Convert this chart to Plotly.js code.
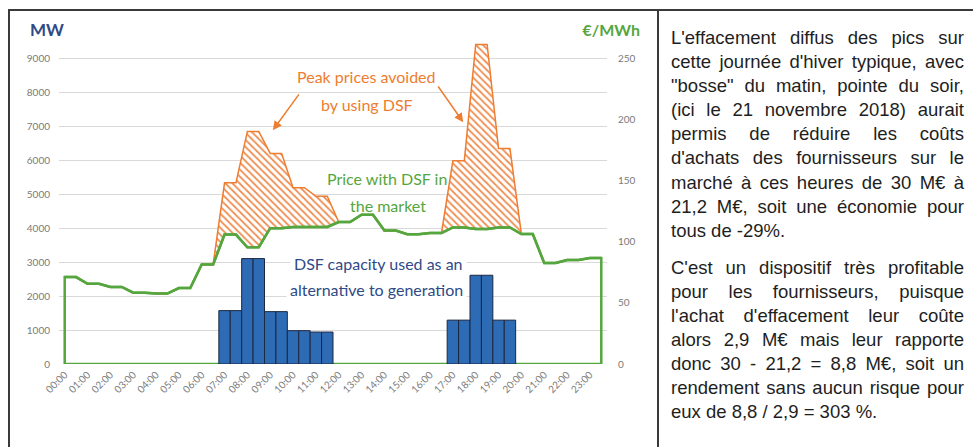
<!DOCTYPE html>
<html>
<head>
<meta charset="utf-8">
<script src="https://cdn.plot.ly/plotly-3.0.1.min.js"></script>
<style>
html,body{margin:0;padding:0;width:973px;height:447px;overflow:hidden;background:#fff;}
#chart{position:absolute;left:0;top:0;width:657px;height:447px;}
.frame{position:absolute;background:#3a3a3a;}
#txt{position:absolute;left:671px;top:26px;width:293px;font-family:"Liberation Sans",Arial,sans-serif;font-size:18.5px;line-height:24.1px;color:#1e1e1e;}
#txt .j{text-align:justify;text-align-last:justify;}
#txt .e{text-align:left;}
#txt .p2{margin-top:13px;}
</style>
</head>
<body>
<div id="chart"></div>
<div class="frame" style="left:8px;top:9px;width:965px;height:2px;"></div>
<div class="frame" style="left:8px;top:9px;width:2px;height:438px;"></div>
<div class="frame" style="left:657px;top:9px;width:2px;height:438px;"></div>
<div id="txt">
  <div class="j">L'effacement diffus des pics sur</div>
  <div class="j">cette journée d'hiver typique, avec</div>
  <div class="j">"bosse" du matin, pointe du soir,</div>
  <div class="j">(ici le 21 novembre 2018) aurait</div>
  <div class="j">permis de réduire les coûts</div>
  <div class="j">d'achats des fournisseurs sur le</div>
  <div class="j">marché à ces heures de 30 M€ à</div>
  <div class="j">21,2 M€, soit une économie pour</div>
  <div class="e">tous de -29%.</div>
  <div class="j p2">C'est un dispositif très profitable</div>
  <div class="j">pour les fournisseurs, puisque</div>
  <div class="j">l'achat d'effacement leur coûte</div>
  <div class="j">alors 2,9 M€ mais leur rapporte</div>
  <div class="j">donc 30 - 21,2 = 8,8 M€, soit un</div>
  <div class="j">rendement sans aucun risque pour</div>
  <div class="e">eux de 8,8 / 2,9 = 303 %.</div>
</div>
<script>
// ---------- DATA ----------
const hours = ["00:00","01:00","02:00","03:00","04:00","05:00","06:00","07:00","08:00","09:00","10:00","11:00",
               "12:00","13:00","14:00","15:00","16:00","17:00","18:00","19:00","20:00","21:00","22:00","23:00"];
// half-hour slots (category labels)
const slots = [];
hours.forEach(h => { slots.push(h); slots.push(h.slice(0,3) + "30"); });

// Price with DSF in the market (€/MWh), per half hour
const priceWithDSF = [71,71, 65.6,65.6, 63,63, 58.3,58.3, 57.5,57.5, 62,62, 81.3,81.3, 105.7,105.7,
                      95.4,95.4, 111,111, 112,112, 112,112, 116,116, 122,122, 109,109, 106,106,
                      107,107, 111.6,111.6, 110.3,110.3, 111.6,111.6, 106.2,106.2, 82.5,82.5, 85,85, 86.5,86.5];
// Price without DSF (€/MWh), per half hour
const priceWithoutDSF = [71,71, 65.6,65.6, 63,63, 58.3,58.3, 57.5,57.5, 62,62, 81.3,81.3, 148,148,
                         190,190, 172,172, 144,144, 137,137, 116,116, 122,122, 109,109, 106,106,
                         107,107, 166,166, 261,261, 176,176, 106.2,106.2, 82.5,82.5, 85,85, 86.5,86.5];
// DSF capacity used (MW), per half hour
const dsfCapacityMW = [0,0, 0,0, 0,0, 0,0, 0,0, 0,0, 0,0, 1570,1570,
                       3100,3100, 1540,1540, 980,980, 940,940, 0,0, 0,0, 0,0, 0,0,
                       0,0, 1290,1290, 2610,2610, 1290,1290, 0,0, 0,0, 0,0, 0,0];

const mwTicks = [0,1000,2000,3000,4000,5000,6000,7000,8000,9000,10000];
const priceTicks = [0,50,100,150,200,250];

// ---------- STYLE ----------
const GREEN = '#55A63E', ORANGE = '#ED7D31', BLUE = '#2E6BB5', NAVY = '#2F4A86';
const tickFont = {family:'Lato, "Open Sans", sans-serif', size:10, color:'#7a7a7a'};
const annFont = (c, s, fam) => ({family: fam || 'Lato, "Open Sans", sans-serif', size: s || 16, color: c});

// plot-area geometry (pixels) used for annotation placement
const PL = 59.4, PW = 547.2, PB = 364.3, PH = 340.7;
const px = v => (v - PL) / PW;
const py = v => (PB - v) / PH;

const traces = [
  { // price with DSF (base for the hatch)
    x: slots, y: priceWithDSF, yaxis:'y', mode:'lines',
    line:{color:GREEN, width:2.5}, hoverinfo:'skip'
  },
  { // price without DSF -> hatched difference
    x: slots, y: priceWithoutDSF, yaxis:'y', mode:'lines', fill:'tonexty',
    fillcolor:'rgba(255,255,255,1)',
    fillpattern:{shape:'\\', fgcolor:'#EF8E52', bgcolor:'#ffffff', size:5, solidity:0.35},
    line:{color:ORANGE, width:1.5}, hoverinfo:'skip'
  },
  { // green area outline (closed to zero)
    x: [slots[0]].concat(slots, [slots[slots.length-1], slots[0]]),
    y: [0].concat(priceWithDSF, [0, 0]),
    yaxis:'y', mode:'lines', line:{color:GREEN, width:2.5}, hoverinfo:'skip'
  },
  { // DSF capacity bars
    type:'bar', x: slots, y: dsfCapacityMW.map(v => v || null), yaxis:'y2', width:1,
    marker:{color:BLUE, line:{color:'#1c2740', width:1}}, hoverinfo:'skip'
  }
];

const layout = {
  width:657, height:447,
  margin:{l:PL, r:657-PL-PW, t:PB-PH, b:447-PB, pad:0},
  paper_bgcolor:'rgba(0,0,0,0)', plot_bgcolor:'rgba(0,0,0,0)',
  showlegend:false, bargap:0,
  xaxis:{type:'category', range:[-0.5,47.5], tickmode:'array', tickvals:hours, ticktext:hours,
         tickangle:-45, tickfont:tickFont, showgrid:false, zeroline:false, showline:false, ticks:'',
         ticklabelstandoff:2},
  yaxis:{side:'right', range:[0, 250*10000/9000], tickmode:'array', tickvals:priceTicks,
         showgrid:false, zeroline:false, showline:false, ticks:'', tickfont:tickFont, ticklabelstandoff:10},
  yaxis2:{overlaying:'y', side:'left', range:[0,10000], tickmode:'array', tickvals:mwTicks,
          ticktext:mwTicks.map(v => v === 10000 ? '' : String(v)),
          showgrid:true, gridcolor:'#d9d9d9', gridwidth:1, zeroline:false, showline:false, ticks:'',
          tickfont:tickFont, ticklabelstandoff:8},
  annotations:[
    {xref:'paper', yref:'paper', x:px(28), y:py(29), xanchor:'left', yanchor:'middle', showarrow:false,
     text:'<b>MW</b>', width:52, align:'left', bgcolor:'#ffffff', font:annFont(NAVY,17)},
    {xref:'paper', yref:'paper', x:px(642), y:py(29), xanchor:'right', yanchor:'middle', showarrow:false,
     text:'<b>€/MWh</b>', width:68, align:'right', bgcolor:'#ffffff', font:annFont(GREEN,16)},
    {xref:'paper', yref:'paper', x:px(366.5), y:py(65), showarrow:false, text:'Peak prices avoided', font:annFont(ORANGE)},
    {xref:'paper', yref:'paper', x:px(366.5), y:py(93), showarrow:false, text:'by using DSF', font:annFont(ORANGE)},
    {xref:'paper', yref:'paper', x:px(387), y:py(178), showarrow:false, text:'Price with DSF in', font:annFont(GREEN)},
    {xref:'paper', yref:'paper', x:px(387.5), y:py(205), showarrow:false, text:'the market', font:annFont(GREEN)},
    {xref:'paper', yref:'paper', x:px(378), y:py(277), showarrow:false, text:'DSF capacity used as an',
     bgcolor:'#ffffff', borderpad:3, font:annFont(NAVY)},
    {xref:'paper', yref:'paper', x:px(376), y:py(303), showarrow:false, text:'alternative to generation',
     bgcolor:'#ffffff', borderpad:3, font:annFont(NAVY)},
    {xref:'paper', yref:'paper', x:px(273), y:py(130), ax:29, ay:-40, text:' ', showarrow:true,
     arrowhead:2, arrowsize:1.2, arrowwidth:1.5, arrowcolor:ORANGE, standoff:0},
    {xref:'paper', yref:'paper', x:px(463), y:py(122), ax:-28, ay:-40, text:' ', showarrow:true,
     arrowhead:2, arrowsize:1.2, arrowwidth:1.5, arrowcolor:ORANGE, standoff:0}
  ]
};

Plotly.newPlot('chart', traces, layout, {displayModeBar:false, staticPlot:true});
</script>
</body>
</html>
